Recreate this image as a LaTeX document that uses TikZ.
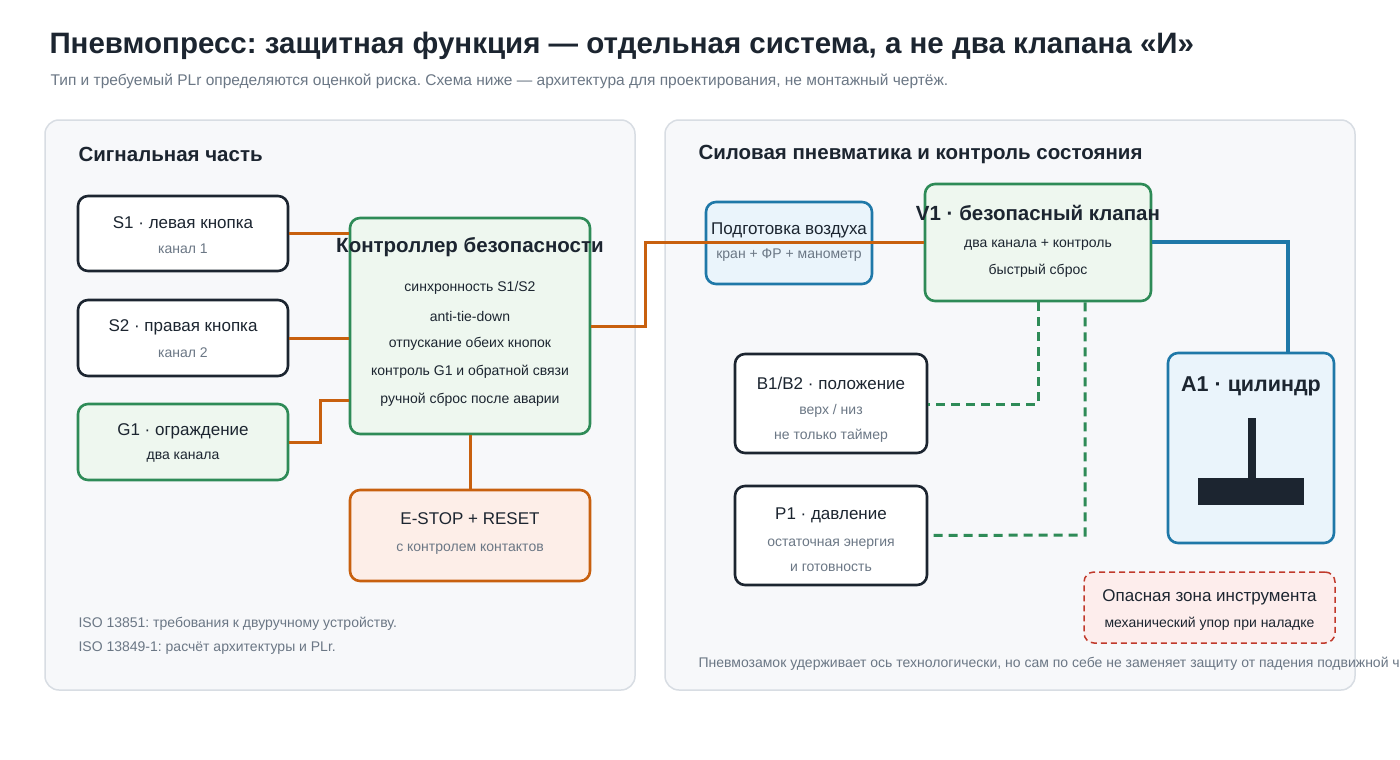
\documentclass[tikz,border=0pt]{standalone}
\usepackage{fontspec}
\setmainfont{Liberation Sans}
\frenchspacing
\usetikzlibrary{arrows.meta,positioning}
\definecolor{inkdark}{HTML}{1C2530}
\definecolor{inkgray}{HTML}{6B7785}
\definecolor{panelbg}{HTML}{F7F8FA}
\definecolor{panelln}{HTML}{D8DDE3}
\definecolor{safegreen}{HTML}{2E8B57}
\definecolor{safefill}{HTML}{EEF7EF}
\definecolor{wireor}{HTML}{C8600E}
\definecolor{estopfill}{HTML}{FDEEE8}
\definecolor{airblue}{HTML}{1F78A8}
\definecolor{airfill}{HTML}{EAF4FB}
\definecolor{dangred}{HTML}{C0392B}
\definecolor{dangfill}{HTML}{FDEDEC}
\begin{document}
\begin{tikzpicture}[x=1pt, y=-1pt,
  panel/.style={draw=panelln, fill=panelbg, line width=1.5pt, rounded corners=14pt},
  box/.style={draw=inkdark, fill=white, line width=2.6pt, rounded corners=10pt, inner sep=0pt},
  okbox/.style={box, draw=safegreen, fill=safefill},
  airbox/.style={box, draw=airblue, fill=airfill},
  estop/.style={box, draw=wireor, fill=estopfill},
  danger/.style={box, draw=dangred, fill=dangfill, line width=1.5pt, dash pattern=on 6pt off 4pt},
  head/.style={font=\fontsize{17}{20}\selectfont, text=inkdark},
  bighead/.style={font=\fontsize{20.5}{24}\selectfont\bfseries, text=inkdark},
  note/.style={font=\fontsize{14}{16}\selectfont, text=inkgray},
  line/.style={font=\fontsize{14}{16}\selectfont, text=inkdark},
  wire/.style={wireor, line width=3pt},
  pipe/.style={airblue, line width=3.5pt},
  sense/.style={safegreen, line width=3pt, dash pattern=on 9pt off 6pt}
]
  \useasboundingbox (0,0) rectangle (1400,760);
  \fill[white] (0,0) rectangle (1400,760);

  % Heading
  \node[anchor=west, font=\fontsize{29.5}{34}\selectfont\bfseries, text=inkdark] (title) at (46,46)
    {Пневмопресс: защитная функция — отдельная система, а не два клапана «И»};
  \node[anchor=west, note, font=\fontsize{15.5}{18}\selectfont] (sub) at (47,81)
    {Тип и требуемый PLr определяются оценкой риска. Схема ниже — архитектура для проектирования, не монтажный чертёж.};

  % Panels
  \draw[panel] (45,120) rectangle (635,690);
  \draw[panel] (665,120) rectangle (1355,690);
  \node[anchor=west, bighead] (lhead) at (75,154) {Сигнальная часть};
  \node[anchor=west, bighead] (rhead) at (695,154) {Силовая пневматика и контроль состояния};

  % Signal part
  \node[box, minimum width=210, minimum height=75] (s1) at (183,233.5) {};
  \node[head] at (183,223) {S1 · левая кнопка};
  \node[note] at (183,249) {канал 1};
  \node[box, minimum width=210, minimum height=76] (s2) at (183,338) {};
  \node[head] at (183,327) {S2 · правая кнопка};
  \node[note] at (183,353) {канал 2};
  \node[okbox, minimum width=210, minimum height=76] (g1) at (183,442) {};
  \node[head] at (183,431) {G1 · ограждение};
  \node[line] at (183,457) {два канала};
  \node[okbox, minimum width=240, minimum height=216] (ctrl) at (470,326) {};
  \node[estop, minimum width=240, minimum height=91] (stop) at (470,535.5) {};
  \node[head] at (470,519) {E-STOP + RESET};
  \node[note] at (470,549) {с контролем контактов};
  \node[anchor=west, note] (iso1) at (75,624) {ISO 13851: требования к двуручному устройству.};
  \node[anchor=west, note] (iso2) at (75,648) {ISO 13849-1: расчёт архитектуры и PLr.};

  % Power part
  \node[airbox, minimum width=166, minimum height=82] (air) at (789,243) {};
  \node[okbox, minimum width=226, minimum height=117] (v1) at (1038,242.5) {};
  \node[box, minimum width=192, minimum height=99] (pos) at (831,403.5) {};
  \node[box, minimum width=192, minimum height=99] (prs) at (831,535.5) {};
  \node[airbox, minimum width=166, minimum height=190] (cyl) at (1251,448) {};
  \node[danger, minimum width=251, minimum height=71] (zone) at (1209.5,607.5) {};

  % Wires
  \draw[wire] (s1.east |- 0,233) -- (ctrl.west |- 0,233);
  \draw[wire] (s2.east) -- (ctrl.west |- s2.east);
  \draw[wire] (g1.east) -- (320,442) -- (320,400) -- (ctrl.west |- 0,400);
  \draw[wire] (ctrl.south) -- (stop.north);
  \draw[wire] (ctrl.east) -- (645,326) -- (645,242) -- (v1.west |- 0,242);
  \draw[pipe] (v1.east |- 0,242) -- (1288,242) -- (cyl.north -| 1288,0);
  \draw[sense] (v1.south -| 1038,0) -- (1038,404) -- (pos.east |- 0,404);
  \draw[sense] (v1.south -| 1085,0) -- (1085,535) -- (prs.east);

  % Texts
  \node[bighead] at (470,247) {Контроллер безопасности};
  \foreach \t [count=\i] in {синхронность S1/S2, anti-tie-down, отпускание обеих кнопок,
      контроль G1 и обратной связи, ручной сброс после аварии}
    \node[line] at (470,260+28*\i) {\t};
  \node[head] at (789,230) {Подготовка воздуха};
  \node[note] at (789,255) {кран + ФР + манометр};
  \node[bighead] at (1038,213) {V1 · безопасный клапан};
  \node[line] at (1038,245) {два канала + контроль};
  \node[line] at (1038,271) {быстрый сброс};
  \node[head] at (831,383) {B1/B2 · положение};
  \node[note] at (831,411) {верх / низ};
  \node[note] at (831,436) {не только таймер};
  \node[head] at (831,515) {P1 · давление};
  \node[note] at (831,544) {остаточная энергия};
  \node[note] at (831,568) {и готовность};
  \node[bighead, font=\fontsize{21.5}{25}\selectfont\bfseries] at (1251,386) {A1 · цилиндр};
  \fill[inkdark] (1248,418) rectangle (1256,478);
  \fill[inkdark] (1198,478) rectangle (1304,505);
  \node[head] at (1209.5,597) {Опасная зона инструмента};
  \node[line] at (1209.5,624) {механический упор при наладке};
  \node[anchor=west, note] (rnote) at (695,664)
    {Пневмозамок удерживает ось технологически, но сам по себе не заменяет защиту от падения подвижной части.};
\end{tikzpicture}
\end{document}
